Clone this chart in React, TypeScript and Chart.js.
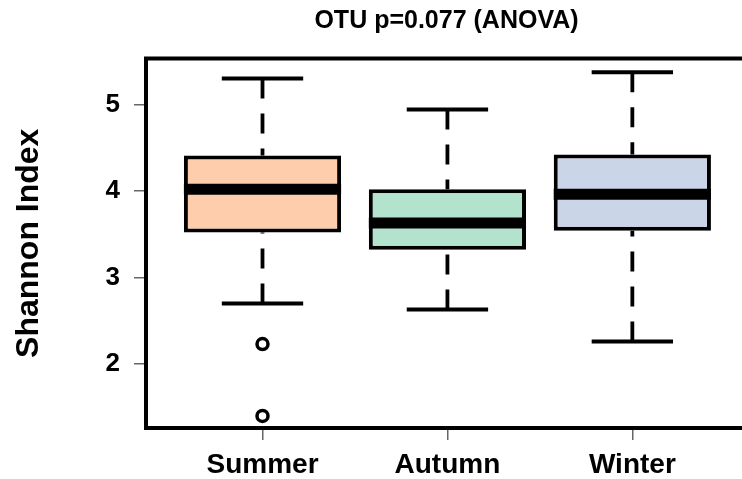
import { useEffect, useRef } from "react";
import { Chart, registerables } from "chart.js";

Chart.register(...registerables);

// Shannon diversity per season: five-number summaries and outlying samples
const seasons = ["Summer", "Autumn", "Winter"];
const whiskerHigh = [5.3, 4.94, 5.37];
const quartileHigh = [4.41, 4.02, 4.42];
const medians = [4.02, 3.63, 3.96];
const quartileLow = [3.52, 3.32, 3.54];
const whiskerLow = [2.7, 2.63, 2.26];
const outliers = [[2.23, 1.4], [], []];
const boxColors = ["#FDCDAC", "#B3E2CD", "#CBD5E8"];
const yTickValues = [2, 3, 4, 5];

const titleText = "OTU p=0.077 (ANOVA)";
const yAxisTitle = "Shannon Index";

// drawing geometry (in category units)
const BOX_FRACTION = 0.85;
const CAP_HALF = 0.22;

const FONT = "'Liberation Sans', Arial, Helvetica, sans-serif";

// closed frame around the plotting region, like base R graphics
const framePlugin = {
  id: "plotFrame",
  afterDatasetsDraw(chart: any) {
    const { ctx, chartArea: a } = chart;
    ctx.save();
    ctx.strokeStyle = "#000";
    ctx.lineWidth = 4;
    ctx.strokeRect(a.left, a.top, a.right - a.left, a.bottom - a.top);
    ctx.restore();
  },
};

function buildDatasets() {
  const sets: any[] = [];
  const lineBase = {
    type: "line",
    borderColor: "#000",
    pointRadius: 0,
    borderCapStyle: "butt",
    fill: false,
    tension: 0,
  };

  seasons.forEach((_, i) => {
    const x = i + 1;
    // dashed whiskers start at the extreme and run towards the box
    sets.push({
      ...lineBase,
      data: [
        { x, y: whiskerHigh[i] },
        { x, y: quartileHigh[i] },
      ],
      borderWidth: 3.8,
      borderDash: [20, 15],
      order: 4,
    });
    sets.push({
      ...lineBase,
      data: [
        { x, y: whiskerLow[i] },
        { x, y: quartileLow[i] },
      ],
      borderWidth: 3.8,
      borderDash: [20, 15],
      order: 4,
    });
    // whisker caps
    sets.push({
      ...lineBase,
      data: [
        { x: x - CAP_HALF, y: whiskerHigh[i] },
        { x: x + CAP_HALF, y: whiskerHigh[i] },
      ],
      borderWidth: 4,
      order: 3,
    });
    sets.push({
      ...lineBase,
      data: [
        { x: x - CAP_HALF, y: whiskerLow[i] },
        { x: x + CAP_HALF, y: whiskerLow[i] },
      ],
      borderWidth: 4,
      order: 3,
    });
    // median bar
    sets.push({
      ...lineBase,
      data: [
        { x: x - BOX_FRACTION / 2, y: medians[i] },
        { x: x + BOX_FRACTION / 2, y: medians[i] },
      ],
      borderWidth: 11,
      order: 1,
    });
  });

  // interquartile boxes
  sets.push({
    type: "bar",
    data: seasons.map((_, i) => ({ x: i + 1, y: [quartileLow[i], quartileHigh[i]] })),
    backgroundColor: boxColors,
    borderColor: "#000",
    borderWidth: 4,
    borderSkipped: false,
    barPercentage: BOX_FRACTION,
    categoryPercentage: 1,
    order: 2,
  });

  // outlying samples
  sets.push({
    type: "scatter",
    data: outliers.flatMap((vals, i) => vals.map((y) => ({ x: i + 1, y }))),
    pointStyle: "circle",
    pointRadius: 5.5,
    pointBorderWidth: 3.5,
    pointBackgroundColor: "rgba(255,255,255,0)",
    pointBorderColor: "#000",
    showLine: false,
    order: 0,
  });

  return sets;
}

export default function App() {
  const canvasRef = useRef<HTMLCanvasElement | null>(null);

  useEffect(() => {
    if (!canvasRef.current) return;
    Chart.defaults.font.family = FONT;
    Chart.defaults.color = "#000";

    const chart = new Chart(canvasRef.current, {
      type: "bar",
      data: { datasets: buildDatasets() },
      options: {
        animation: false,
        responsive: true,
        maintainAspectRatio: false,
        events: [],
        layout: { padding: { left: 0, right: 13, top: 0, bottom: 0 } },
        plugins: {
          legend: { display: false },
          tooltip: { enabled: false },
          title: {
            display: true,
            text: titleText,
            fullSize: false,
            color: "#000",
            font: { size: 25, weight: "bold", lineHeight: 1 },
            padding: { top: 9, bottom: 24.5 },
          },
        },
        scales: {
          x: {
            type: "linear",
            min: 0.37,
            max: 3.62,
            offset: false,
            afterBuildTicks: (s: any) => {
              s.ticks = seasons.map((_, i) => ({ value: i + 1 }));
            },
            afterFit: (s: any) => {
              s.height = 51;
            },
            border: { display: false },
            grid: {
              offset: false,
              drawOnChartArea: false,
              drawTicks: true,
              tickLength: 12,
              color: "#666",
              lineWidth: 1.5,
            },
            ticks: {
              callback: (_v: any, i: number) => seasons[i],
              autoSkip: false,
              maxRotation: 0,
              minRotation: 0,
              color: "#000",
              font: { size: 28, weight: "bold" },
              padding: 8,
            },
          },
          y: {
            type: "linear",
            min: 1.26,
            max: 5.53,
            afterBuildTicks: (s: any) => {
              s.ticks = yTickValues.map((v) => ({ value: v }));
            },
            afterFit: (s: any) => {
              s.width = 146;
            },
            border: { display: false },
            grid: {
              drawOnChartArea: false,
              drawTicks: true,
              tickLength: 12,
              color: "#666",
              lineWidth: 1.5,
            },
            ticks: {
              color: "#000",
              font: { size: 26, weight: "bold" },
              padding: 14,
            },
            title: {
              display: true,
              text: yAxisTitle,
              color: "#000",
              font: { size: 32, weight: "bold", lineHeight: 1.2 },
              padding: { top: 10, bottom: 0 },
            },
          },
        },
      } as any,
      plugins: [framePlugin],
    } as any);

    return () => chart.destroy();
  }, []);

  return (
    <div
      style={{
        position: "absolute",
        left: 0,
        top: 0,
        width: 742,
        height: 479,
        overflow: "hidden",
        background: "#fff",
      }}
    >
      <div style={{ position: "relative", width: 760, height: 479 }}>
        <canvas ref={canvasRef} />
      </div>
    </div>
  );
}
